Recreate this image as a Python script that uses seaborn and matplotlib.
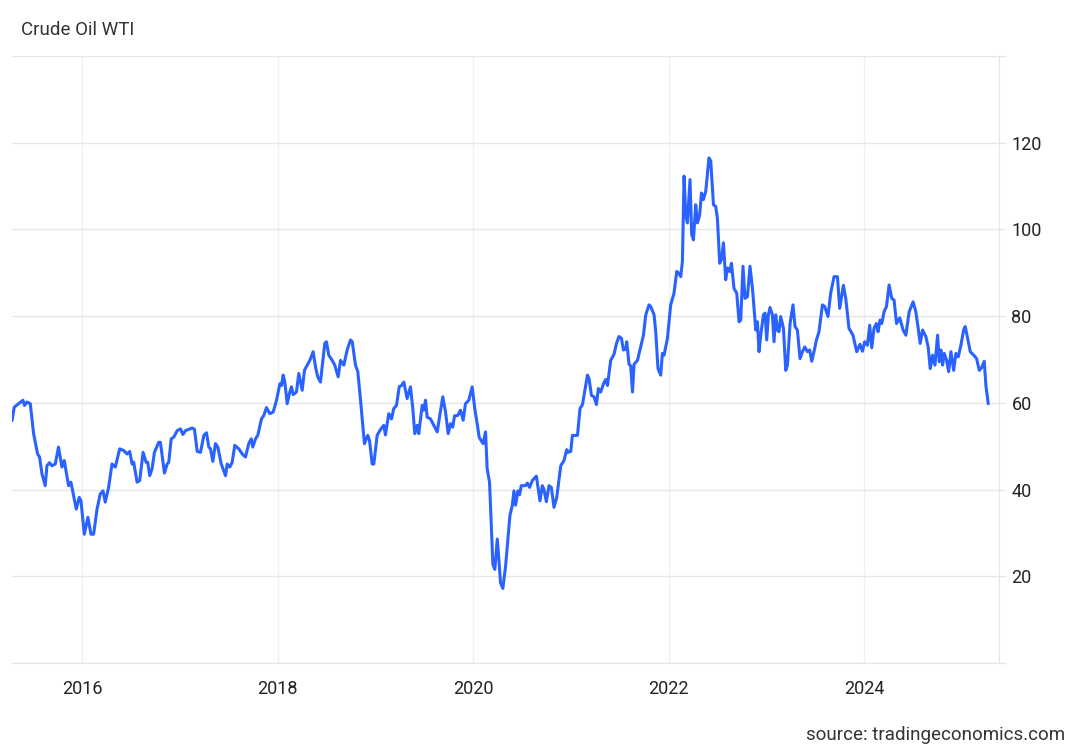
import numpy as np
import pandas as pd
import matplotlib
matplotlib.use("Agg")
import matplotlib.pyplot as plt
import matplotlib.dates as mdates
import seaborn as sns

# WTI crude price (time as decimal years)
years = [
    2015.284, 2015.307, 2015.351, 2015.396, 2015.412, 2015.437, 2015.471, 2015.505, 2015.546, 2015.566,
    2015.591, 2015.624, 2015.642, 2015.668, 2015.693, 2015.727, 2015.760, 2015.795, 2015.819, 2015.863,
    2015.887, 2015.914, 2015.942, 2015.972, 2015.990, 2016.024, 2016.061, 2016.092, 2016.119, 2016.154,
    2016.187, 2016.215, 2016.238, 2016.272, 2016.307, 2016.341, 2016.385, 2016.426, 2016.461, 2016.487,
    2016.512, 2016.528, 2016.563, 2016.590, 2016.624, 2016.655, 2016.671, 2016.692, 2016.716, 2016.740,
    2016.784, 2016.801, 2016.842, 2016.870, 2016.886, 2016.911, 2016.938, 2016.972, 2017.006, 2017.030,
    2017.057, 2017.091, 2017.126, 2017.149, 2017.177, 2017.211, 2017.245, 2017.272, 2017.296, 2017.313,
    2017.337, 2017.364, 2017.388, 2017.423, 2017.467, 2017.484, 2017.511, 2017.535, 2017.562, 2017.603,
    2017.638, 2017.671, 2017.705, 2017.730, 2017.746, 2017.774, 2017.797, 2017.835, 2017.859, 2017.886,
    2017.920, 2017.955, 2017.989, 2018.023, 2018.040, 2018.057, 2018.074, 2018.098, 2018.125, 2018.142,
    2018.160, 2018.193, 2018.217, 2018.252, 2018.275, 2018.303, 2018.330, 2018.364, 2018.388, 2018.411,
    2018.439, 2018.467, 2018.483, 2018.500, 2018.524, 2018.559, 2018.585, 2018.620, 2018.644, 2018.678,
    2018.712, 2018.746, 2018.764, 2018.797, 2018.821, 2018.849, 2018.889, 2018.923, 2018.941, 2018.968,
    2018.985, 2019.019, 2019.046, 2019.071, 2019.087, 2019.104, 2019.138, 2019.166, 2019.189, 2019.217,
    2019.245, 2019.268, 2019.292, 2019.326, 2019.360, 2019.384, 2019.404, 2019.429, 2019.445, 2019.480,
    2019.496, 2019.514, 2019.531, 2019.565, 2019.599, 2019.634, 2019.660, 2019.691, 2019.719, 2019.746,
    2019.770, 2019.793, 2019.811, 2019.844, 2019.872, 2019.900, 2019.923, 2019.957, 2019.992, 2020.018,
    2020.043, 2020.064, 2020.083, 2020.104, 2020.128, 2020.145, 2020.169, 2020.203, 2020.223, 2020.248,
    2020.264, 2020.281, 2020.305, 2020.333, 2020.377, 2020.401, 2020.418, 2020.435, 2020.459, 2020.476,
    2020.493, 2020.537, 2020.555, 2020.578, 2020.606, 2020.647, 2020.684, 2020.708, 2020.725, 2020.749,
    2020.776, 2020.800, 2020.827, 2020.855, 2020.896, 2020.929, 2020.957, 2020.970, 2020.998, 2021.015,
    2021.067, 2021.093, 2021.118, 2021.134, 2021.169, 2021.185, 2021.210, 2021.236, 2021.261, 2021.281,
    2021.305, 2021.333, 2021.356, 2021.374, 2021.407, 2021.441, 2021.466, 2021.492, 2021.517, 2021.537,
    2021.561, 2021.571, 2021.595, 2021.612, 2021.630, 2021.646, 2021.681, 2021.714, 2021.742, 2021.766,
    2021.799, 2021.817, 2021.851, 2021.868, 2021.891, 2021.919, 2021.936, 2021.953, 2021.988, 2022.021,
    2022.055, 2022.083, 2022.106, 2022.124, 2022.141, 2022.158, 2022.175, 2022.192, 2022.219, 2022.236,
    2022.254, 2022.277, 2022.295, 2022.318, 2022.336, 2022.356, 2022.380, 2022.413, 2022.431, 2022.459,
    2022.482, 2022.499, 2022.523, 2022.544, 2022.561, 2022.584, 2022.602, 2022.625, 2022.643, 2022.669,
    2022.697, 2022.721, 2022.738, 2022.761, 2022.782, 2022.807, 2022.833, 2022.858, 2022.892, 2022.909,
    2022.925, 2022.943, 2022.970, 2022.987, 2023.004, 2023.021, 2023.038, 2023.062, 2023.079, 2023.096,
    2023.114, 2023.130, 2023.147, 2023.175, 2023.199, 2023.216, 2023.243, 2023.273, 2023.294, 2023.318,
    2023.345, 2023.370, 2023.393, 2023.421, 2023.444, 2023.465, 2023.488, 2023.513, 2023.539, 2023.574,
    2023.598, 2023.631, 2023.659, 2023.693, 2023.728, 2023.751, 2023.789, 2023.813, 2023.846, 2023.887,
    2023.925, 2023.959, 2023.984, 2024.007, 2024.035, 2024.058, 2024.079, 2024.102, 2024.127, 2024.143,
    2024.164, 2024.181, 2024.205, 2024.229, 2024.256, 2024.283, 2024.307, 2024.332, 2024.365, 2024.399,
    2024.427, 2024.461, 2024.501, 2024.529, 2024.553, 2024.573, 2024.598, 2024.631, 2024.655, 2024.676,
    2024.700, 2024.724, 2024.751, 2024.768, 2024.785, 2024.802, 2024.819, 2024.843, 2024.864, 2024.887,
    2024.915, 2024.938, 2024.962, 2024.989, 2025.017, 2025.033, 2025.058, 2025.085, 2025.120, 2025.150,
    2025.177, 2025.201, 2025.228, 2025.245, 2025.269,
]
price = [
    55.9, 59.0, 59.8, 60.6, 59.4, 60.2, 59.8, 52.9, 48.2, 47.5,
    43.6, 40.9, 45.5, 46.2, 45.5, 45.9, 49.8, 45.2, 46.7, 40.9,
    41.7, 38.6, 35.5, 38.2, 37.4, 29.7, 33.6, 29.7, 29.7, 35.5,
    39.0, 39.7, 37.1, 40.5, 45.9, 45.2, 49.4, 49.0, 48.2, 48.8,
    45.9, 46.3, 41.7, 42.1, 48.6, 46.3, 46.3, 43.2, 44.8, 48.6,
    50.9, 50.9, 43.8, 45.9, 46.3, 51.7, 52.1, 53.6, 54.0, 52.7,
    53.6, 53.9, 54.2, 53.9, 48.8, 48.6, 52.5, 53.1, 49.8, 49.4,
    46.5, 50.6, 49.8, 45.9, 43.2, 45.9, 45.2, 46.3, 50.2, 49.4,
    48.2, 47.5, 50.6, 51.7, 49.8, 51.7, 52.5, 56.3, 57.1, 58.9,
    57.5, 57.9, 60.6, 64.4, 64.0, 66.4, 64.8, 59.8, 62.5, 63.7,
    61.9, 62.5, 66.8, 62.9, 67.5, 68.7, 69.8, 71.8, 68.3, 66.0,
    64.8, 70.6, 73.7, 74.1, 71.0, 69.8, 68.7, 66.0, 69.8, 68.7,
    72.2, 74.5, 74.1, 68.7, 67.2, 60.6, 50.6, 52.5, 51.3, 45.9,
    45.9, 52.5, 53.6, 54.4, 54.8, 52.6, 57.5, 56.3, 58.7, 59.4,
    63.7, 64.0, 64.8, 61.0, 63.7, 58.7, 52.9, 54.8, 52.9, 59.4,
    58.3, 60.6, 56.7, 56.3, 54.8, 53.3, 57.1, 61.4, 57.9, 52.9,
    55.2, 54.4, 57.0, 57.1, 58.3, 56.0, 59.8, 60.6, 63.7, 58.7,
    55.2, 52.0, 51.3, 50.6, 53.3, 44.8, 41.7, 22.8, 21.6, 28.6,
    24.0, 18.5, 17.2, 22.4, 34.0, 36.3, 39.7, 36.4, 39.7, 38.8,
    40.9, 40.9, 41.5, 40.5, 42.1, 43.1, 37.4, 40.9, 40.0, 37.2,
    40.9, 40.5, 35.9, 38.2, 45.5, 46.7, 49.2, 48.6, 48.8, 52.5,
    52.5, 58.7, 59.6, 61.7, 66.4, 65.6, 61.7, 61.4, 59.6, 63.3,
    62.5, 64.4, 65.4, 64.0, 69.8, 71.2, 73.7, 75.3, 74.9, 72.2,
    72.4, 74.1, 68.9, 68.5, 62.5, 68.9, 69.8, 72.9, 75.6, 80.3,
    82.6, 82.2, 80.3, 76.4, 67.9, 66.4, 71.4, 71.0, 74.9, 82.6,
    85.3, 90.3, 89.9, 89.1, 92.6, 112.3, 103.4, 101.5, 111.5, 98.8,
    97.6, 105.7, 101.5, 103.4, 108.4, 106.9, 108.8, 116.5, 115.8, 105.7,
    105.3, 102.6, 92.2, 93.4, 96.9, 88.4, 91.1, 90.3, 92.2, 86.4,
    85.3, 78.7, 79.1, 91.5, 84.1, 84.5, 91.5, 86.4, 76.8, 78.7,
    71.8, 75.6, 80.3, 80.7, 74.5, 80.3, 82.0, 80.3, 74.1, 80.3,
    76.8, 76.4, 79.9, 77.2, 67.5, 68.7, 78.3, 82.6, 77.6, 76.8,
    70.2, 71.8, 72.9, 71.8, 72.2, 69.6, 71.8, 74.5, 76.4, 82.6,
    82.2, 79.9, 85.3, 89.1, 89.1, 81.8, 87.1, 84.1, 77.2, 75.6,
    71.8, 73.5, 71.9, 74.1, 73.3, 77.9, 72.7, 77.2, 78.3, 76.4,
    79.1, 78.3, 81.0, 82.2, 87.2, 84.1, 83.7, 78.3, 79.6, 76.8,
    75.6, 81.0, 83.3, 81.0, 77.2, 73.7, 76.8, 75.3, 72.9, 67.9,
    71.0, 68.7, 75.6, 69.5, 72.2, 68.7, 71.4, 69.8, 67.2, 71.8,
    67.5, 71.4, 70.6, 73.3, 76.8, 77.6, 74.9, 71.8, 71.0, 70.2,
    67.5, 68.1, 69.6, 64.0, 59.8,
]

y_ticks = [0, 20, 40, 60, 80, 100, 120, 140]
y_labels = ["", "20", "40", "60", "80", "100", "120", ""]


def decimal_year_to_date(value):
    """Convierte un año decimal en fecha."""
    year = int(np.floor(value))
    start = pd.Timestamp(year=year, month=1, day=1)
    end = pd.Timestamp(year=year + 1, month=1, day=1)
    return start + (value - year) * (end - start)


df = pd.DataFrame({
    "date": [decimal_year_to_date(v) for v in years],
    "price": price,
})

sns.set_style("white")
plt.rcParams["font.family"] = ["Roboto", "DejaVu Sans"]

fig = plt.figure(figsize=(10.8, 7.48), dpi=100)
ax = fig.add_axes([12 / 1080, 1 - 663 / 748, (999 - 12) / 1080, (663 - 56) / 748])

sns.lineplot(data=df, x="date", y="price", ax=ax, color="#2962ff", linewidth=2.2)

ax.set_xlim(decimal_year_to_date(2015.284), decimal_year_to_date(2025.379))
ax.set_ylim(0, 140)
ax.set_xlabel("")
ax.set_ylabel("")

ax.xaxis.set_major_locator(mdates.YearLocator(2))
ax.xaxis.set_major_formatter(mdates.DateFormatter("%Y"))
ax.yaxis.tick_right()
ax.set_yticks(y_ticks)
ax.set_yticklabels(y_labels)

ax.tick_params(axis="y", length=5, width=1, color="#e6e6e6", labelsize=13,
               labelcolor="#222222", pad=4)
ax.tick_params(axis="x", length=0, labelsize=13, labelcolor="#222222", pad=12)

ax.grid(axis="y", color="#e6e6e6", linewidth=1)
ax.grid(axis="x", color="#edf1f6", linewidth=1)
ax.set_axisbelow(True)

for side in ["top", "left"]:
    ax.spines[side].set_visible(False)
ax.spines["right"].set_color("#e6e6e6")
ax.spines["bottom"].set_color("#e6e6e6")

fig.text(21 / 1080, 1 - 30 / 748, "Crude Oil WTI", fontsize=13.5, color="#333333",
         ha="left", va="center")
fig.text(1065 / 1080, 1 - 735 / 748, "source: tradingeconomics.com", fontsize=13.5,
         color="#333333", ha="right", va="center")

fig.savefig("out.png", dpi=100)
